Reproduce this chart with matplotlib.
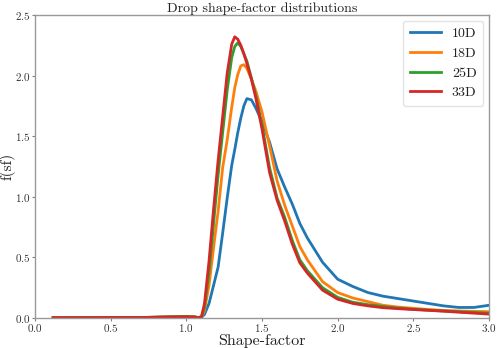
import matplotlib
matplotlib.use("Agg")
import matplotlib.pyplot as plt

plt.rcParams['font.family'] = ['serif']
plt.rcParams['font.serif'] = ['cmr10', 'DejaVu Serif']
plt.rcParams['mathtext.fontset'] = 'cm'
plt.rcParams['axes.unicode_minus'] = False
plt.rcParams['axes.formatter.use_mathtext'] = True

x = [0.12, 0.3, 0.5, 0.7, 0.9, 1.0, 1.05, 1.08, 1.10, 1.12, 1.15, 1.18, 1.21, 1.24,
     1.27, 1.30, 1.32, 1.34, 1.36, 1.38, 1.40, 1.43, 1.46, 1.50, 1.55, 1.60, 1.65,
     1.70, 1.75, 1.80, 1.90, 2.0, 2.1, 2.2, 2.3, 2.4, 2.5, 2.6, 2.7, 2.8, 2.9, 3.0]

f_10D = [0.003, 0.004, 0.005, 0.004, 0.008, 0.010, 0.008, 0.004, 0.005, 0.03, 0.12, 0.27,
         0.42, 0.70, 0.99, 1.26, 1.39, 1.53, 1.65, 1.75, 1.81, 1.80, 1.73, 1.62, 1.45, 1.23,
         1.08, 0.94, 0.78, 0.66, 0.46, 0.32, 0.26, 0.21, 0.18, 0.16, 0.14, 0.12, 0.10,
         0.087, 0.087, 0.105]
f_18D = [0.003, 0.003, 0.004, 0.004, 0.010, 0.012, 0.010, 0.004, 0.008, 0.06, 0.27, 0.58,
         0.88, 1.24, 1.47, 1.74, 1.90, 2.01, 2.08, 2.09, 2.06, 1.97, 1.87, 1.70, 1.42, 1.13,
         0.93, 0.76, 0.59, 0.48, 0.30, 0.21, 0.165, 0.135, 0.105, 0.09, 0.08, 0.07, 0.063,
         0.058, 0.055, 0.052]
f_25D = [0.003, 0.003, 0.004, 0.004, 0.010, 0.012, 0.010, 0.004, 0.010, 0.09, 0.38, 0.78,
         1.18, 1.53, 1.88, 2.15, 2.24, 2.27, 2.24, 2.18, 2.12, 1.98, 1.83, 1.59, 1.24, 0.99,
         0.83, 0.64, 0.48, 0.39, 0.25, 0.17, 0.13, 0.11, 0.095, 0.082, 0.072, 0.065, 0.058,
         0.052, 0.046, 0.040]
f_33D = [0.003, 0.003, 0.004, 0.004, 0.008, 0.010, 0.008, 0.003, 0.010, 0.12, 0.47, 0.90,
         1.30, 1.66, 2.02, 2.26, 2.32, 2.30, 2.25, 2.18, 2.10, 1.97, 1.81, 1.56, 1.20, 0.97,
         0.80, 0.61, 0.455, 0.37, 0.23, 0.155, 0.12, 0.10, 0.085, 0.077, 0.07, 0.063, 0.056,
         0.048, 0.040, 0.032]

labels = ['10D', '18D', '25D', '33D']
colors = ['#1f77b4', '#ff7f0e', '#2ca02c', '#d62728']

fig = plt.figure(figsize=(4.99, 3.48), dpi=100)
ax = fig.add_axes([35/499, 30/348, 454/499, 303/348])

for ys, lab, c in zip([f_10D, f_18D, f_25D, f_33D], labels, colors):
    ax.plot(x, ys, color=c, lw=2, label=lab)

ax.set_xlim(0, 3.0)
ax.set_ylim(0, 2.5)
ax.set_xticks([0.0, 0.5, 1.0, 1.5, 2.0, 2.5, 3.0])
ax.set_yticks([0.0, 0.5, 1.0, 1.5, 2.0, 2.5])
ax.tick_params(labelsize=8, length=2, width=0.8, colors='#808080', labelcolor='#333333', pad=1)
for s in ax.spines.values():
    s.set_color('#999999')
    s.set_linewidth(1.0)

ax.set_title('Drop shape-factor distributions', fontsize=10, pad=1, color='#222222')
ax.set_xlabel('Shape-factor', fontsize=11.5, labelpad=0, color='#222222')
ax.set_ylabel('f(sf)', fontsize=11, color='#222222')
ax.yaxis.set_label_coords(-0.042, 0.5)

leg = ax.legend(loc='upper right', fontsize=10, frameon=True, fancybox=True,
                handlelength=2.2, borderpad=0.5, labelspacing=0.5,
                borderaxespad=0.4)
leg.get_frame().set_edgecolor('#dddddd')
for t in leg.get_texts():
    t.set_color('#222222')

fig.savefig('out.png', dpi=100)
